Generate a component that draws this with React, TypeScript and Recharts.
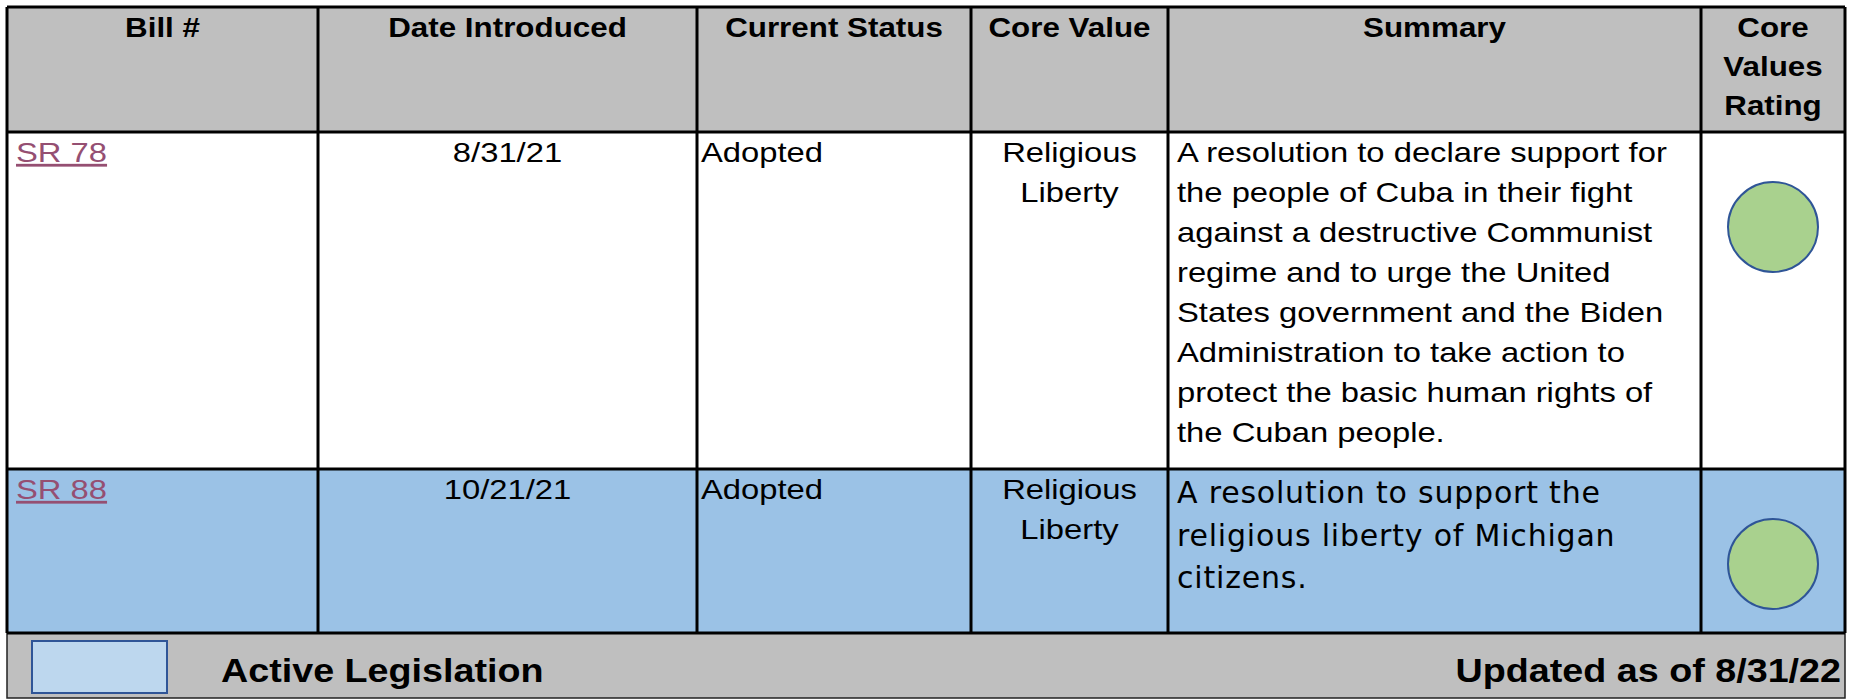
import {
  ComposedChart,
  ReferenceArea,
  ReferenceLine,
  Scatter,
  XAxis,
  YAxis,
} from "recharts";

// ---- table content ----
const headers = [
  ["Bill #"],
  ["Date Introduced"],
  ["Current Status"],
  ["Core Value"],
  ["Summary"],
  ["Core", "Values", "Rating"],
];
const billNumbers = ["SR 78", "SR 88"];
const datesIntroduced = ["8/31/21", "10/21/21"];
const statuses = ["Adopted", "Adopted"];
const coreValues = [
  ["Religious", "Liberty"],
  ["Religious", "Liberty"],
];
const summaries = [
  [
    "A resolution to declare support for",
    "the people of Cuba in their fight",
    "against a destructive Communist",
    "regime and to urge the United",
    "States government and the Biden",
    "Administration to take action to",
    "protect the basic human rights of",
    "the Cuban people.",
  ],
  ["A resolution to support the", "religious liberty of Michigan", "citizens."],
];
const ratings = ["support", "support"];
const activeRows = [false, true];
const legendLabel = "Active Legislation";
const updatedLabel = "Updated as of 8/31/22";

// ---- layout ----
const W = 1853;
const H = 700;
const colEdges = [7, 318, 697, 971, 1168, 1701, 1845];
const rowEdges = [7, 132, 469, 633];
const footerBottom = 698;
const summaryStyleByRow: StyleKey[] = ["body", "alt"];

const ARIAL = "'Liberation Sans', Arial, Helvetica, sans-serif";

type StyleKey = "head" | "body" | "link" | "alt" | "foot";

const TEXT_STYLES: Record<
  StyleKey,
  { family: string; size: number; weight: number; sx: number; lh: number; fill: string; ls?: number; underline?: boolean }
> = {
  head: { family: ARIAL, size: 28, weight: 700, sx: 1.12, lh: 39, fill: "#000" },
  body: { family: ARIAL, size: 28, weight: 400, sx: 1.17, lh: 40, fill: "#000" },
  link: { family: ARIAL, size: 28, weight: 400, sx: 1.17, lh: 40, fill: "#954F72", underline: true },
  alt: { family: "'DejaVu Sans', Verdana, sans-serif", size: 30, weight: 400, sx: 1, lh: 42.5, fill: "#000", ls: 0.8 },
  foot: { family: ARIAL, size: 32.5, weight: 700, sx: 1.16, lh: 40, fill: "#000" },
};

const ratingColors: Record<string, string> = { support: "#A9D18E" };

type Cell = {
  x: number;
  y: number;
  lines: string[];
  kind: StyleKey;
  anchor: "start" | "middle" | "end";
};

const mid = (c: number) => (colEdges[c] + colEdges[c + 1]) / 2;

const cells: Cell[] = [];
headers.forEach((lines, c) => {
  cells.push({ x: mid(c), y: rowEdges[0] + 30, lines, kind: "head", anchor: "middle" });
});
billNumbers.forEach((bill, r) => {
  const top = rowEdges[r + 1];
  cells.push({ x: colEdges[0] + 9, y: top + 30, lines: [bill], kind: "link", anchor: "start" });
  cells.push({ x: mid(1), y: top + 30, lines: [datesIntroduced[r]], kind: "body", anchor: "middle" });
  cells.push({ x: colEdges[2] + 4, y: top + 30, lines: [statuses[r]], kind: "body", anchor: "start" });
  cells.push({ x: mid(3), y: top + 30, lines: coreValues[r], kind: "body", anchor: "middle" });
  const sk = summaryStyleByRow[r];
  cells.push({ x: colEdges[4] + 9, y: top + (sk === "alt" ? 34 : 30), lines: summaries[r], kind: sk, anchor: "start" });
});
cells.push({ x: 221, y: 682, lines: [legendLabel], kind: "foot", anchor: "start" });
cells.push({ x: 1841, y: 682, lines: [updatedLabel], kind: "foot", anchor: "end" });

const ratingPoints = ratings.map((rating, r) => ({
  x: mid(5),
  y: rowEdges[r + 1] + 95,
  rating,
}));

function CellText(props: any) {
  const { cx, cy, payload } = props;
  const st = TEXT_STYLES[payload.kind as StyleKey];
  return (
    <g>
      {payload.lines.map((line: string, i: number) => (
        <text
          key={i}
          transform={`translate(${cx},${cy + i * st.lh}) scale(${st.sx},1)`}
          textAnchor={payload.anchor}
          fontFamily={st.family}
          fontSize={st.size}
          fontWeight={st.weight}
          fill={st.fill}
          letterSpacing={st.ls ?? 0}
          textDecoration={st.underline ? "underline" : undefined}
        >
          {line}
        </text>
      ))}
    </g>
  );
}

function RatingDot(props: any) {
  const { cx, cy, payload } = props;
  return (
    <ellipse
      cx={cx}
      cy={cy}
      rx={45}
      ry={45}
      fill={ratingColors[payload.rating] ?? "#ccc"}
      stroke="#2F5597"
      strokeWidth={2}
    />
  );
}

export default function App() {
  const left = colEdges[0];
  const right = colEdges[colEdges.length - 1];
  const tableBottom = rowEdges[rowEdges.length - 1];

  return (
    <div style={{ position: "absolute", left: 0, top: 0, width: W, height: H, background: "#fff" }}>
      <ComposedChart width={W} height={H} margin={{ top: 0, right: 0, bottom: 0, left: 0 }}>
        <XAxis type="number" dataKey="x" domain={[0, W]} allowDataOverflow hide />
        <YAxis type="number" dataKey="y" domain={[0, H]} allowDataOverflow reversed hide />

        {/* header band */}
        <ReferenceArea x1={left} x2={right} y1={rowEdges[0]} y2={rowEdges[1]} fill="#BFBFBF" fillOpacity={1} />
        {/* active legislation rows */}
        {activeRows.map((active, r) =>
          active ? (
            <ReferenceArea
              key={r}
              x1={left}
              x2={right}
              y1={rowEdges[r + 1]}
              y2={rowEdges[r + 2]}
              fill="#9BC2E6"
              fillOpacity={1}
            />
          ) : null
        )}
        {/* footer */}
        <ReferenceArea
          x1={left}
          x2={right}
          y1={tableBottom}
          y2={footerBottom}
          fill="#BFBFBF"
          fillOpacity={1}
          stroke="#222"
          strokeWidth={1.5}
        />
        <ReferenceArea
          x1={32}
          x2={167}
          y1={641}
          y2={693}
          fill="#BDD7EE"
          fillOpacity={1}
          stroke="#2F5597"
          strokeWidth={2}
        />

        {/* grid */}
        {colEdges.map((x) => (
          <ReferenceLine
            key={`c${x}`}
            segment={[
              { x, y: rowEdges[0] },
              { x, y: tableBottom },
            ]}
            stroke="#000"
            strokeWidth={3}
          />
        ))}
        {rowEdges.map((y) => (
          <ReferenceLine
            key={`r${y}`}
            segment={[
              { x: left, y },
              { x: right, y },
            ]}
            stroke="#000"
            strokeWidth={3}
          />
        ))}

        <Scatter data={ratingPoints} shape={RatingDot} isAnimationActive={false} />
        <Scatter data={cells} shape={CellText} isAnimationActive={false} />
      </ComposedChart>
    </div>
  );
}
